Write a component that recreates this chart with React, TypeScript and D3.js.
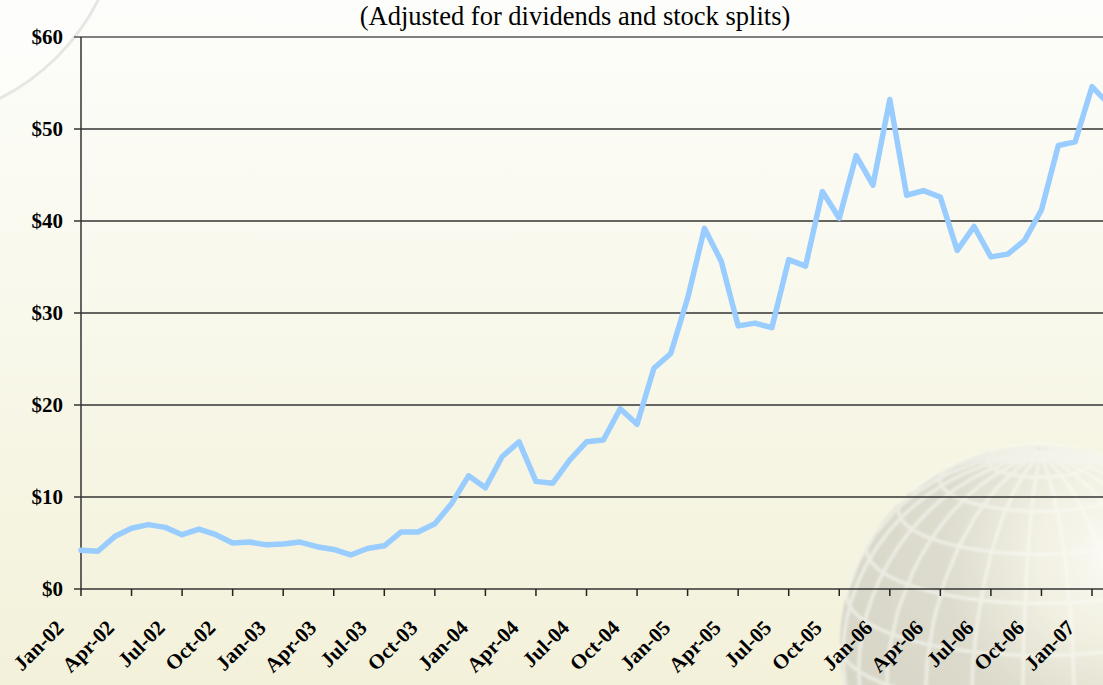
import React from "react";
import * as d3 from "d3";

// Monthly adjusted closing price, Jan-02 through Feb-07
const prices: number[] = [
  4.2, 4.1, 5.7, 6.6, 7.0, 6.7, 5.9, 6.5, 5.9, 5.0, 5.1, 4.8,
  4.9, 5.1, 4.6, 4.3, 3.7, 4.4, 4.7, 6.2, 6.2, 7.1, 9.3, 12.3,
  11.0, 14.4, 16.0, 11.7, 11.5, 14.0, 16.0, 16.2, 19.6, 17.9, 24.0, 25.6,
  31.6, 39.2, 35.6, 28.6, 28.9, 28.4, 35.8, 35.1, 43.2, 40.3, 47.1, 43.9,
  53.2, 42.8, 43.3, 42.6, 36.8, 39.4, 36.1, 36.4, 37.9, 41.2, 48.2, 48.6,
  54.6, 52.7,
];

// Quarterly category labels (one every three months)
const tickLabels: string[] = [
  "Jan-02", "Apr-02", "Jul-02", "Oct-02",
  "Jan-03", "Apr-03", "Jul-03", "Oct-03",
  "Jan-04", "Apr-04", "Jul-04", "Oct-04",
  "Jan-05", "Apr-05", "Jul-05", "Oct-05",
  "Jan-06", "Apr-06", "Jul-06", "Oct-06",
  "Jan-07",
];

const yTicks: number[] = [0, 10, 20, 30, 40, 50, 60];

const subtitle = "(Adjusted for dividends and stock splits)";

const W = 1103;
const H = 685;
const left = 81;
const top = 37;
const bottom = 589;

export default function App() {
  const x = d3.scaleLinear().domain([0, 60]).range([left, 1092]);
  const y = d3.scaleLinear().domain([0, 60]).range([bottom, top]);

  const line = d3
    .line<number>()
    .x((_, i) => x(i))
    .y((d) => y(d));

  // Faint globe watermark in the lower right corner
  const proj = d3
    .geoOrthographic()
    .scale(200)
    .translate([1040, 645])
    .rotate([25, -18])
    .clipAngle(90);
  const geoPath = d3.geoPath(proj);
  const graticule = d3.geoGraticule().step([15, 15])();
  const spherePath = geoPath({ type: "Sphere" } as any) || "";
  const gratPath = geoPath(graticule) || "";

  const serif = "'Liberation Serif', 'Times New Roman', serif";

  return (
    <svg
      width={W}
      height={H}
      style={{ position: "absolute", left: 0, top: 0, display: "block" }}
    >
      <defs>
        <linearGradient id="bg" x1="0" y1="0" x2="0" y2="1">
          <stop offset="0" stopColor="#fdfdfb" />
          <stop offset="0.3" stopColor="#fafaf1" />
          <stop offset="0.7" stopColor="#f6f5e3" />
          <stop offset="1" stopColor="#f3f1da" />
        </linearGradient>
        <radialGradient id="globe" cx="0.7" cy="0.28" r="0.8">
          <stop offset="0" stopColor="#ffffff" stopOpacity="0.8" />
          <stop offset="0.25" stopColor="#f0efe6" stopOpacity="0.55" />
          <stop offset="0.55" stopColor="#c9c8c0" stopOpacity="0.55" />
          <stop offset="1" stopColor="#bdbcb3" stopOpacity="0.55" />
        </radialGradient>
        <filter id="soft" x="-10%" y="-10%" width="120%" height="120%">
          <feGaussianBlur stdDeviation="1.2" />
        </filter>
      </defs>

      <rect x={0} y={0} width={W} height={H} fill="url(#bg)" />

      {/* decorative arc in the top-left corner */}
      <circle cx={-100} cy={-100} r={222} fill="#ffffff" fillOpacity={0.3} stroke="#e6e6e2" strokeWidth={3} />

      <g filter="url(#soft)">
        <path d={spherePath} fill="url(#globe)" />
        <path d={gratPath} fill="none" stroke="#fbfbf6" strokeOpacity={0.55} strokeWidth={3.5} />
      </g>

      <text
        x={575}
        y={25}
        textAnchor="middle"
        fontFamily={serif}
        fontSize={26.5}
        fill="#000"
      >
        {subtitle}
      </text>

      {/* horizontal gridlines and y-axis labels */}
      {yTicks.map((t) => (
        <g key={t}>
          <line
            x1={74}
            x2={W}
            y1={y(t)}
            y2={y(t)}
            stroke={t === 60 ? "#555" : "#333"}
            strokeWidth={1.5}
          />
          <text
            x={63}
            y={y(t)}
            dy="0.35em"
            textAnchor="end"
            fontFamily={serif}
            fontWeight="bold"
            fontSize={21}
            fill="#000"
          >
            {`$${t}`}
          </text>
        </g>
      ))}

      {/* y axis */}
      <line x1={left} x2={left} y1={top} y2={bottom} stroke="#333" strokeWidth={1.5} />

      {/* x-axis ticks and rotated labels */}
      {tickLabels.map((lab, k) => {
        const tx = x(k * 3);
        return (
          <g key={lab}>
            <line x1={tx} x2={tx} y1={bottom} y2={bottom + 7} stroke="#222" strokeWidth={1.5} />
            <text
              transform={`translate(${tx - 16},${629}) rotate(-45)`}
              textAnchor="end"
              fontFamily={serif}
              fontWeight="bold"
              fontSize={21}
              fill="#000"
            >
              {lab}
            </text>
          </g>
        );
      })}

      <path
        d={line(prices) || ""}
        fill="none"
        stroke="#99ccff"
        strokeWidth={5.5}
        strokeLinejoin="round"
        strokeLinecap="round"
      />
    </svg>
  );
}
